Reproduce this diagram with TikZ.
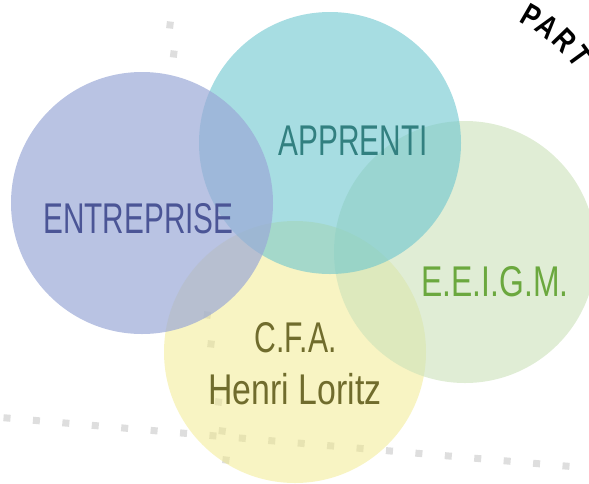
\documentclass[tikz,border=0pt]{standalone}
\usepackage{fontspec}
\setmainfont{Liberation Sans}
\definecolor{dotgray}{RGB}{222,222,222}
\definecolor{yellowF}{RGB}{241,233,135}
\definecolor{greenF}{RGB}{203,225,185}
\definecolor{cyanF}{RGB}{108,198,207}
\definecolor{blueF}{RGB}{155,169,215}
\definecolor{blueT}{RGB}{75,85,150}
\definecolor{cyanT}{RGB}{50,128,128}
\definecolor{greenT}{RGB}{107,168,62}
\definecolor{yellowT}{RGB}{112,108,45}
\newcommand{\arcfont}{\fontsize{32}{32}\selectfont\bfseries}
\begin{document}
\begin{tikzpicture}[x=1pt,y=-1pt,
  sq/.style={fill=dotgray, draw=none, minimum size=7pt, inner sep=0pt},
  lbl/.style={anchor=base, inner sep=0pt, font=\fontsize{43}{43}\selectfont},
  arcletter/.style={inner sep=0pt, text=black}]
\useasboundingbox (0,0) rectangle (589,483);
\clip (0,0) rectangle (589,483);
% dotted lines
\foreach \i in {0,...,19}
  \node[sq, rotate=-5] (h\i) at ({7+29.42*\i},{418+2.53*\i}) {};
\foreach \i in {-1,0,1,10,11,13,14,15}
  \node[sq, rotate=-7] (v\i) at ({170+3.73*\i},{25+29*\i}) {};
% circles
\fill[yellowF, fill opacity=.5] (295,352) circle[radius=131pt];
\fill[greenF, fill opacity=.6] (465,252) circle[radius=131pt];
\fill[cyanF, fill opacity=.6] (330,143) circle[radius=131pt];
\fill[blueF, fill opacity=.7] (142,203) circle[radius=131pt];
% labels
\node[lbl, text=blueT] (entreprise) at (138.5,233) {\resizebox{190pt}{\height}{ENTREPRISE}};
\node[lbl, text=cyanT] (apprenti) at (353,155) {\resizebox{149pt}{\height}{APPRENTI}};
\node[lbl, text=greenT] (eeigm) at (495,296) {\resizebox{147pt}{\height}{E.E.I.G.M.}};
\node[lbl, text=yellowT] (cfa) at (295.5,352) {\resizebox{82pt}{\height}{C.F.A.}};
\node[lbl, text=yellowT] (loritz) at (295,404) {\resizebox{173pt}{\height}{Henri Loritz}};
% arc text
\node[arcletter, rotate=-30] (arcP) at (531,16) {\arcfont\scalebox{0.8}[1]{P}};
\node[arcletter, rotate=-38] (arcA) at (548,27) {\arcfont\scalebox{0.8}[1]{A}};
\node[arcletter, rotate=-46] (arcR) at (565,40) {\arcfont\scalebox{0.8}[1]{R}};
\node[arcletter, rotate=-54] (arcT) at (580,56) {\arcfont\scalebox{0.8}[1]{T}};
\end{tikzpicture}
\end{document}
